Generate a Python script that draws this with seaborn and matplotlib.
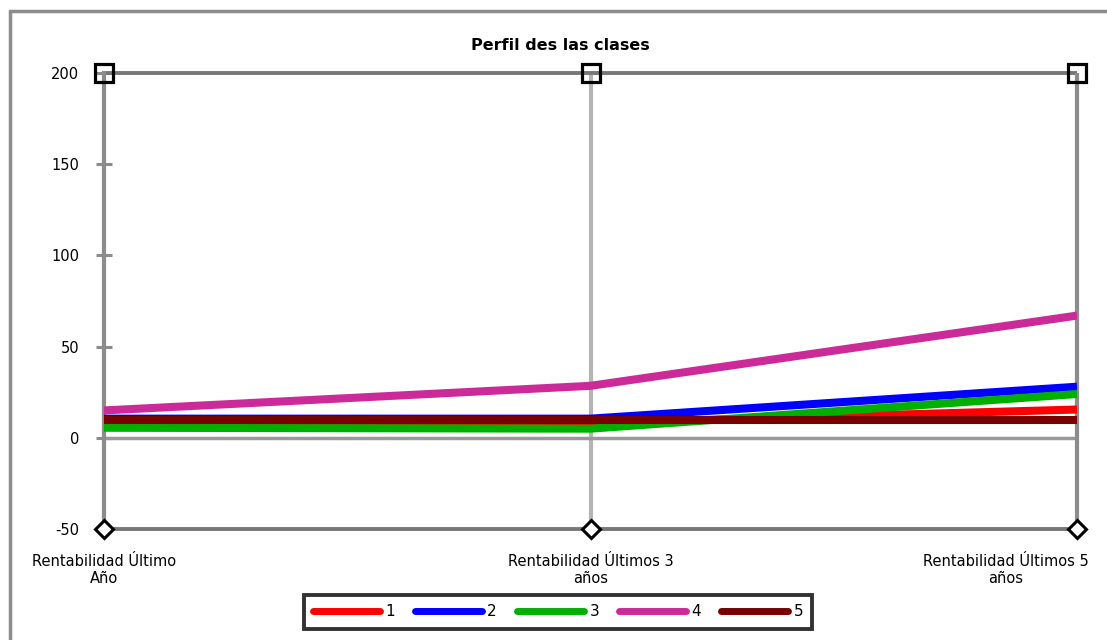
import matplotlib
matplotlib.use('Agg')
import matplotlib.pyplot as plt
import matplotlib.transforms as mtransforms
from matplotlib.lines import Line2D
import seaborn as sns
import pandas as pd

# datos
categorias = ['Rentabilidad Último\nAño', 'Rentabilidad Últimos 3\naños', 'Rentabilidad Últimos 5\naños']
clases = ['1', '2', '3', '4', '5']
clase1 = [8, 8, 15.5]
clase2 = [10.5, 10.5, 28]
clase3 = [5.5, 5, 24]
clase4 = [15, 28.5, 67]
clase5 = [9.5, 9.5, 9.5]
eje_max = [200, 200, 200]
eje_min = [-50, -50, -50]
yticks = [-50, 0, 50, 100, 150, 200]

colores = ['#ff0000', '#0000ff', '#00b000', '#cc2a99', '#780000']

series = [clase1, clase2, clase3, clase4, clase5]
df = pd.DataFrame({
    'x': [i for s in series for i in range(len(categorias))],
    'valor': [v for s in series for v in s],
    'clase': [c for c, s in zip(clases, series) for _ in s],
})

sns.set_style('white')
plt.rcParams['font.family'] = ['DejaVu Sans']
plt.rcParams['axes.unicode_minus'] = False
plt.rcParams['text.color'] = 'black'
plt.rcParams['xtick.color'] = 'black'
plt.rcParams['ytick.color'] = 'black'

fig = plt.figure(figsize=(11.07, 6.4), dpi=100)
ax = fig.add_axes([104 / 1107, 1 - 529 / 640, (1077 - 104) / 1107, 456 / 640])

# rejilla / ejes
gris = '#8c8c8c'
ax.axvline(1, color='#b4b4b4', lw=3, zorder=1)
ax.axhline(0, color='#999999', lw=2.5, zorder=1)
ax.axhline(200, color='#777777', lw=2.8, zorder=1, clip_on=False)
ax.axhline(-50, color='#777777', lw=2.8, zorder=1, clip_on=False)
for side in ['top', 'right', 'bottom']:
    ax.spines[side].set_visible(False)
ax.spines['left'].set_color(gris)
ax.spines['left'].set_linewidth(3)
ax.spines['left'].set_zorder(1)
ax.axvline(2, color=gris, lw=3, zorder=1, clip_on=False)

sns.lineplot(data=df, x='x', y='valor', hue='clase', palette=colores,
             linewidth=5.8, ax=ax, zorder=3, legend=True)
for ln in ax.get_lines():
    ln.set_solid_capstyle('butt')

ax.plot(range(3), eje_max, ls='none', marker='s', ms=12.5, mfc='none', mec='black',
        mew=2.3, clip_on=False, zorder=5)
ax.plot(range(3), eje_min, ls='none', marker='D', ms=9, mfc='white', mec='black',
        mew=2.2, clip_on=False, zorder=5)

ax.set_xlim(0, 2)
ax.set_ylim(-50, 200)
ax.set_yticks(yticks)
ax.tick_params(axis='y', left=True, direction='inout', length=11.5, width=2.2,
               color=gris, labelcolor='black', labelsize=10.5, pad=12)
ax.set_xticks(range(3))
ax.set_xticklabels(categorias, fontsize=10.5, linespacing=1.2)
ax.tick_params(axis='x', length=0, pad=18, labelcolor='black')
xlabels = ax.get_xticklabels()
xlabels[2].set_transform(xlabels[2].get_transform() +
                         mtransforms.ScaledTranslation(-0.71, 0, fig.dpi_scale_trans))
ax.set_xlabel('')
ax.set_ylabel('')

fig.text(560 / 1107, 1 - 45 / 640, 'Perfil des las clases', ha='center', va='center',
         fontsize=11.5, fontweight='bold', color='black')

handles, labels = ax.get_legend_handles_labels()
for h in handles:
    h.set_solid_capstyle('round')
    h.set_linewidth(5)
if ax.get_legend():
    ax.get_legend().remove()
leg = fig.legend(handles, labels, loc='center', bbox_to_anchor=(558 / 1107, 1 - 612 / 640),
                 ncol=5, frameon=True, fancybox=False, fontsize=11, handlelength=4.4,
                 handletextpad=0.35, columnspacing=1.3, borderpad=0.6)
leg.get_frame().set_edgecolor('black')
leg.get_frame().set_linewidth(2.8)

# borde del area del grafico
fig.add_artist(Line2D([10 / 1107, 10 / 1107], [0, 1 - 11 / 640], color=gris, lw=2.5))
fig.add_artist(Line2D([10 / 1107, 1], [1 - 11 / 640, 1 - 11 / 640], color=gris, lw=2.5))

fig.savefig('out.png', dpi=100)
